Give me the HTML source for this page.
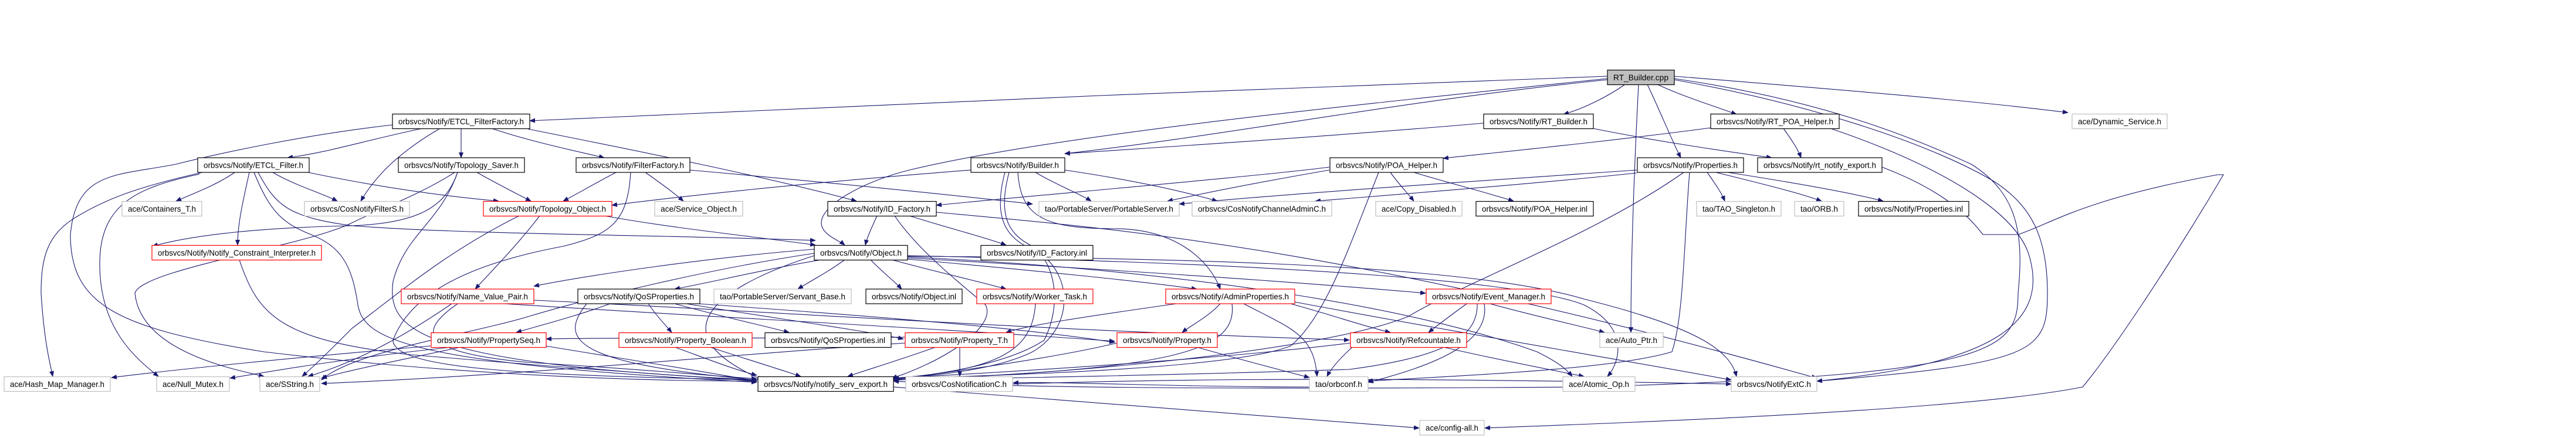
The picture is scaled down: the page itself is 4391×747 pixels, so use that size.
<!DOCTYPE html>
<html><head><meta charset="utf-8"><style>
html,body{margin:0;padding:0;background:#fff;}
svg{display:block;}
text{font-family:"Liberation Sans",sans-serif;font-size:14px;fill:#000;}
.e{fill:none;stroke:#191970;stroke-width:1.1;marker-end:url(#a);}
.b{fill:#fff;stroke:#000;stroke-width:1.2;}
.g{fill:#fff;stroke:#bfbfbf;stroke-width:1.2;}
.r{fill:#fff;stroke:#ff0000;stroke-width:1.2;}
</style></head><body>
<svg width="4391" height="747" viewBox="0 0 4391 747" xmlns="http://www.w3.org/2000/svg">
<defs><marker id="a" markerWidth="10" markerHeight="8" refX="9" refY="4" orient="auto" markerUnits="userSpaceOnUse"><polygon points="0,0 10,4 0,8" fill="#191970"/></marker></defs>
<g>
<path class="e" d="M2740,130 C2200,150 1400,180 903,206"/>
<path class="e" d="M2740,134 C2300,180 1800,230 1550,290 C1470,310 1400,350 1400,380 C1400,400 1430,410 1440,418"/>
<path class="e" d="M2740,136 C2400,170 2100,230 1815,262"/>
<path class="e" d="M2770,144 C2740,165 2700,185 2665,195"/>
<path class="e" d="M2825,144 C2870,165 2920,180 2960,195"/>
<path class="e" d="M2808,144 C2830,190 2850,240 2865,269"/>
<path class="e" d="M2793,144 C2785,300 2780,450 2780,567"/>
<path class="e" d="M2854,130 C3100,150 3350,170 3525,192"/>
<path class="e" d="M2854,136 C3100,180 3300,250 3400,310 C3460,350 3490,400 3490,500 C3490,600 3470,620 3097,650"/>
<path class="e" d="M2854,134 C3100,170 3250,230 3360,280 C3440,330 3450,400 3440,500 C3440,600 3400,640 2700,660 C2000,665 1700,660 1523,650"/>
<path class="e" d="M720,219 C620,240 560,260 490,269"/>
<path class="e" d="M786,219 L786,269"/>
<path class="e" d="M838,219 C900,240 970,255 1030,269"/>
<path class="e" d="M750,219 C680,260 640,300 615,343"/>
<path class="e" d="M900,220 C1100,260 1300,300 1460,343"/>
<path class="e" d="M669,213 C520,230 380,260 300,280 C200,300 130,290 120,400 C120,520 200,560 450,600 C700,630 1000,650 1290,650"/>
<path class="e" d="M400,294 C370,315 330,330 300,343"/>
<path class="e" d="M465,294 C500,315 550,330 575,343"/>
<path class="e" d="M525,294 C650,320 760,335 850,343"/>
<path class="e" d="M425,294 C415,340 405,380 405,418"/>
<path class="e" d="M345,294 C230,320 180,340 130,370 C80,400 70,440 70,500 C75,580 85,620 90,642"/>
<path class="e" d="M340,297 C230,320 170,350 170,450 C170,560 230,610 270,642"/>
<path class="e" d="M433,294 C460,360 480,380 530,400 C580,420 600,450 610,520 C620,580 700,620 1290,652"/>
<path class="e" d="M440,294 C470,350 490,370 600,385 C800,400 1100,400 1390,410"/>
<path class="e" d="M813,294 C850,315 880,330 905,343"/>
<path class="e" d="M780,294 C760,350 720,380 600,385 C450,388 330,400 260,420"/>
<path class="e" d="M780,294 C750,380 690,400 670,480 C660,560 700,620 1290,648"/>
<path class="e" d="M775,294 C720,330 640,360 600,380 C520,420 240,460 230,500 C240,600 400,630 450,642"/>
<path class="e" d="M1050,294 C1010,315 985,330 960,343"/>
<path class="e" d="M1100,294 C1130,315 1150,330 1165,343"/>
<path class="e" d="M1176,290 C1400,310 1600,330 1760,348"/>
<path class="e" d="M1075,294 C1070,380 1040,400 960,420 C800,450 700,500 670,580 C670,630 900,640 1290,648"/>
<path class="e" d="M920,368 C880,420 840,460 810,493"/>
<path class="e" d="M885,368 C760,430 680,500 600,560 C560,600 540,620 515,642"/>
<path class="e" d="M1030,368 C1150,390 1300,405 1390,418"/>
<path class="e" d="M408,443 C440,540 480,580 700,605 C1000,630 1150,640 1290,650"/>
<path class="e" d="M770,518 C680,580 600,620 525,642"/>
<path class="e" d="M860,518 C1200,540 1600,560 1900,582"/>
<path class="e" d="M780,518 C720,560 700,600 900,618 C1100,630 1200,640 1290,646"/>
<path class="e" d="M910,512 C1300,530 1700,560 2300,580"/>
<path class="e" d="M1040,518 C980,540 920,555 880,567"/>
<path class="e" d="M1105,518 C1120,540 1135,555 1145,567"/>
<path class="e" d="M1150,518 C1230,540 1300,555 1345,567"/>
<path class="e" d="M1170,518 C1300,540 1450,560 1540,578"/>
<path class="e" d="M1190,518 C1500,540 1750,560 1900,584"/>
<path class="e" d="M1000,518 C950,580 980,620 1290,648"/>
<path class="e" d="M734,590 C500,610 300,630 190,644"/>
<path class="e" d="M770,592 C600,610 480,630 392,645"/>
<path class="e" d="M785,592 C680,615 600,630 548,645"/>
<path class="e" d="M930,590 C1050,610 1180,630 1290,650"/>
<path class="e" d="M1542,575 C1300,578 1100,575 931,578"/>
<path class="e" d="M1210,592 C1280,615 1330,630 1365,642"/>
<path class="e" d="M1150,592 C1200,610 1250,630 1290,640"/>
<path class="e" d="M1636,592 L1636,642"/>
<path class="e" d="M1595,592 C1530,615 1480,630 1445,642"/>
<path class="e" d="M1543,585 C1300,600 900,640 548,654"/>
<path class="e" d="M1440,443 C1410,465 1380,480 1360,493"/>
<path class="e" d="M1484,443 C1505,465 1525,480 1537,493"/>
<path class="e" d="M1520,443 C1600,465 1670,480 1715,493"/>
<path class="e" d="M1547,442 C1750,460 1950,480 2040,493"/>
<path class="e" d="M1400,443 C1300,460 1220,480 1150,493"/>
<path class="e" d="M1388,425 C1200,440 1000,470 910,488"/>
<path class="e" d="M1547,440 C1900,460 2200,480 2430,500"/>
<path class="e" d="M1547,437 C2000,440 2500,450 2700,510 C2900,560 2950,600 2960,642"/>
<path class="e" d="M1547,436 C2200,450 2600,480 2700,520 C2780,560 2760,620 2740,642"/>
<path class="e" d="M1547,438 C2000,460 2400,520 2620,600 C2660,620 2670,630 2680,642"/>
<path class="e" d="M1388,432 C1200,460 1000,510 900,540 C800,570 600,600 548,648"/>
<path class="e" d="M1388,436 C1250,480 1100,560 1300,648"/>
<path class="e" d="M1495,368 C1485,390 1478,405 1475,418"/>
<path class="e" d="M1550,368 C1620,390 1680,405 1715,418"/>
<path class="e" d="M1525,368 C1560,420 1620,470 1680,520 C1700,560 1600,620 1520,645"/>
<path class="e" d="M1596,362 C1900,390 2300,420 3097,645"/>
<path class="e" d="M1655,290 C1400,310 1200,330 1043,350"/>
<path class="e" d="M1765,294 C1800,315 1840,330 1860,343"/>
<path class="e" d="M1815,290 C1950,310 2030,330 2075,343"/>
<path class="e" d="M1735,294 C1740,370 1780,390 1900,390 C2000,390 2060,440 2080,493"/>
<path class="e" d="M1720,294 C1700,370 1720,400 1760,420 C1800,450 1810,520 1780,580 C1720,620 1600,640 1523,645"/>
<path class="e" d="M1713,294 C1690,380 1720,410 1770,430 C1830,470 1830,560 1760,600 C1700,630 1600,640 1523,646"/>
<path class="e" d="M2529,210 C2300,230 2000,250 1815,262"/>
<path class="e" d="M2715,219 C2820,240 2920,255 3020,269"/>
<path class="e" d="M2916,218 C2750,240 2600,255 2460,270"/>
<path class="e" d="M3040,219 C3055,240 3065,255 3070,269"/>
<path class="e" d="M3120,219 C3300,280 3440,360 3460,440 C3490,550 3400,620 3097,650"/>
<path class="e" d="M2266,290 C2150,310 2050,330 1990,343"/>
<path class="e" d="M2266,285 C2150,300 1800,330 1596,350"/>
<path class="e" d="M2370,294 C2385,315 2400,330 2410,343"/>
<path class="e" d="M2410,294 C2480,315 2540,330 2580,343"/>
<path class="e" d="M2350,294 C2300,420 2260,540 2200,590 C2100,630 1700,640 1523,646"/>
<path class="e" d="M2910,294 C2925,315 2935,330 2940,343"/>
<path class="e" d="M2925,294 C3010,315 3070,330 3105,343"/>
<path class="e" d="M2945,294 C3080,315 3160,330 3210,343"/>
<path class="e" d="M2790,290 C2500,310 2200,330 2010,348"/>
<path class="e" d="M2790,295 C2600,315 2400,330 2242,343"/>
<path class="e" d="M2870,294 C2720,400 2500,480 2400,540 C2250,600 1800,640 1523,648"/>
<path class="e" d="M2880,294 C2870,420 2870,540 2850,600 C2750,630 2500,640 2330,650"/>
<path class="e" d="M2500,518 C2470,540 2450,555 2435,567"/>
<path class="e" d="M2540,518 C2620,540 2690,555 2735,567"/>
<path class="e" d="M2530,518 C2540,580 2460,620 2332,652"/>
<path class="e" d="M2518,518 C2520,580 2450,610 2300,630 C2000,640 1700,645 1523,648"/>
<path class="e" d="M2305,592 C2280,615 2268,630 2262,642"/>
<path class="e" d="M2460,592 C2560,615 2640,630 2700,642"/>
<path class="e" d="M2302,585 C2100,610 1800,630 1523,645"/>
<path class="e" d="M2080,518 C2060,540 2030,555 2015,567"/>
<path class="e" d="M2005,518 C1850,540 1750,555 1715,567"/>
<path class="e" d="M2120,518 C2200,560 2240,570 2245,642"/>
<path class="e" d="M2200,518 C2280,540 2320,555 2370,567"/>
<path class="e" d="M2100,518 C2110,600 2000,630 1523,648"/>
<path class="e" d="M2207,515 C2500,570 2800,620 2951,648"/>
<path class="e" d="M2040,592 C2120,615 2180,630 2232,644"/>
<path class="e" d="M1904,585 C1800,610 1650,630 1523,648"/>
<path class="e" d="M1765,518 C1760,600 1700,630 1523,646"/>
<path class="e" d="M1726,655 C1900,650 2200,640 2951,655"/>
<path class="e" d="M2232,660 C2000,660 1800,650 1727,653"/>
<path class="e" d="M1523,660 C1900,690 2200,715 2419,730"/>
<path class="e" d="M3208,285 C3300,320 3350,360 3380,400 L3440,400 C3500,380 3550,340 3780,298 L3790,298 C3700,450 3600,600 3550,660 C3350,700 2800,720 2531,730"/>
</g>
<g>
<rect class="b" x="2740" y="119.5" width="114" height="25" style="fill:#bfbfbf"/><text x="2797" y="137" text-anchor="middle" textLength="94" lengthAdjust="spacingAndGlyphs">RT_Builder.cpp</text>
<rect class="b" x="669" y="194.5" width="234" height="25"/><text x="786" y="212" text-anchor="middle" textLength="214" lengthAdjust="spacingAndGlyphs">orbsvcs/Notify/ETCL_FilterFactory.h</text>
<rect class="b" x="2529" y="194.5" width="187" height="25"/><text x="2622.5" y="212" text-anchor="middle" textLength="167" lengthAdjust="spacingAndGlyphs">orbsvcs/Notify/RT_Builder.h</text>
<rect class="b" x="2916" y="194.5" width="219" height="25"/><text x="3025.5" y="212" text-anchor="middle" textLength="199" lengthAdjust="spacingAndGlyphs">orbsvcs/Notify/RT_POA_Helper.h</text>
<rect class="g" x="3532" y="194.5" width="162" height="25"/><text x="3613" y="212" text-anchor="middle" textLength="142" lengthAdjust="spacingAndGlyphs">ace/Dynamic_Service.h</text>
<rect class="b" x="337" y="269" width="190" height="25"/><text x="432" y="286.5" text-anchor="middle" textLength="170" lengthAdjust="spacingAndGlyphs">orbsvcs/Notify/ETCL_Filter.h</text>
<rect class="b" x="679" y="269" width="215" height="25"/><text x="786.5" y="286.5" text-anchor="middle" textLength="195" lengthAdjust="spacingAndGlyphs">orbsvcs/Notify/Topology_Saver.h</text>
<rect class="b" x="982" y="269" width="194" height="25"/><text x="1079" y="286.5" text-anchor="middle" textLength="174" lengthAdjust="spacingAndGlyphs">orbsvcs/Notify/FilterFactory.h</text>
<rect class="b" x="1655" y="269" width="160" height="25"/><text x="1735" y="286.5" text-anchor="middle" textLength="140" lengthAdjust="spacingAndGlyphs">orbsvcs/Notify/Builder.h</text>
<rect class="b" x="2267" y="269" width="193" height="25"/><text x="2363.5" y="286.5" text-anchor="middle" textLength="173" lengthAdjust="spacingAndGlyphs">orbsvcs/Notify/POA_Helper.h</text>
<rect class="b" x="2791" y="269" width="181" height="25"/><text x="2881.5" y="286.5" text-anchor="middle" textLength="161" lengthAdjust="spacingAndGlyphs">orbsvcs/Notify/Properties.h</text>
<rect class="b" x="2996" y="269" width="212" height="25"/><text x="3102" y="286.5" text-anchor="middle" textLength="192" lengthAdjust="spacingAndGlyphs">orbsvcs/Notify/rt_notify_export.h</text>
<rect class="g" x="208" y="343.5" width="136" height="25"/><text x="276" y="361" text-anchor="middle" textLength="116" lengthAdjust="spacingAndGlyphs">ace/Containers_T.h</text>
<rect class="g" x="519" y="343.5" width="179" height="25"/><text x="608.5" y="361" text-anchor="middle" textLength="159" lengthAdjust="spacingAndGlyphs">orbsvcs/CosNotifyFilterS.h</text>
<rect class="r" x="824" y="343.5" width="219" height="25"/><text x="933.5" y="361" text-anchor="middle" textLength="199" lengthAdjust="spacingAndGlyphs">orbsvcs/Notify/Topology_Object.h</text>
<rect class="g" x="1116" y="343.5" width="150" height="25"/><text x="1191" y="361" text-anchor="middle" textLength="130" lengthAdjust="spacingAndGlyphs">ace/Service_Object.h</text>
<rect class="b" x="1411" y="343.5" width="185" height="25"/><text x="1503.5" y="361" text-anchor="middle" textLength="165" lengthAdjust="spacingAndGlyphs">orbsvcs/Notify/ID_Factory.h</text>
<rect class="g" x="1771" y="343.5" width="239" height="25"/><text x="1890.5" y="361" text-anchor="middle" textLength="219" lengthAdjust="spacingAndGlyphs">tao/PortableServer/PortableServer.h</text>
<rect class="g" x="2032" y="343.5" width="238" height="25"/><text x="2151" y="361" text-anchor="middle" textLength="218" lengthAdjust="spacingAndGlyphs">orbsvcs/CosNotifyChannelAdminC.h</text>
<rect class="g" x="2345" y="343.5" width="147" height="25"/><text x="2418.5" y="361" text-anchor="middle" textLength="127" lengthAdjust="spacingAndGlyphs">ace/Copy_Disabled.h</text>
<rect class="b" x="2516" y="343.5" width="200" height="25"/><text x="2616" y="361" text-anchor="middle" textLength="180" lengthAdjust="spacingAndGlyphs">orbsvcs/Notify/POA_Helper.inl</text>
<rect class="g" x="2892" y="343.5" width="144" height="25"/><text x="2964" y="361" text-anchor="middle" textLength="124" lengthAdjust="spacingAndGlyphs">tao/TAO_Singleton.h</text>
<rect class="g" x="3059" y="343.5" width="84" height="25"/><text x="3101" y="361" text-anchor="middle" textLength="64" lengthAdjust="spacingAndGlyphs">tao/ORB.h</text>
<rect class="b" x="3168" y="343.5" width="188" height="25"/><text x="3262" y="361" text-anchor="middle" textLength="168" lengthAdjust="spacingAndGlyphs">orbsvcs/Notify/Properties.inl</text>
<rect class="r" x="259" y="418.5" width="289" height="25"/><text x="403.5" y="436" text-anchor="middle" textLength="269" lengthAdjust="spacingAndGlyphs">orbsvcs/Notify/Notify_Constraint_Interpreter.h</text>
<rect class="b" x="1388" y="418.5" width="159" height="25"/><text x="1467.5" y="436" text-anchor="middle" textLength="139" lengthAdjust="spacingAndGlyphs">orbsvcs/Notify/Object.h</text>
<rect class="b" x="1672" y="418.5" width="191" height="25"/><text x="1767.5" y="436" text-anchor="middle" textLength="171" lengthAdjust="spacingAndGlyphs">orbsvcs/Notify/ID_Factory.inl</text>
<rect class="r" x="684" y="493" width="226" height="25"/><text x="797" y="510.5" text-anchor="middle" textLength="206" lengthAdjust="spacingAndGlyphs">orbsvcs/Notify/Name_Value_Pair.h</text>
<rect class="b" x="985" y="493" width="208" height="25"/><text x="1089" y="510.5" text-anchor="middle" textLength="188" lengthAdjust="spacingAndGlyphs">orbsvcs/Notify/QoSProperties.h</text>
<rect class="g" x="1217" y="493" width="234" height="25"/><text x="1334" y="510.5" text-anchor="middle" textLength="214" lengthAdjust="spacingAndGlyphs">tao/PortableServer/Servant_Base.h</text>
<rect class="b" x="1476" y="493" width="164" height="25"/><text x="1558" y="510.5" text-anchor="middle" textLength="144" lengthAdjust="spacingAndGlyphs">orbsvcs/Notify/Object.inl</text>
<rect class="r" x="1665" y="493" width="198" height="25"/><text x="1764" y="510.5" text-anchor="middle" textLength="178" lengthAdjust="spacingAndGlyphs">orbsvcs/Notify/Worker_Task.h</text>
<rect class="r" x="1987" y="493" width="220" height="25"/><text x="2097" y="510.5" text-anchor="middle" textLength="200" lengthAdjust="spacingAndGlyphs">orbsvcs/Notify/AdminProperties.h</text>
<rect class="r" x="2431" y="493" width="213" height="25"/><text x="2537.5" y="510.5" text-anchor="middle" textLength="193" lengthAdjust="spacingAndGlyphs">orbsvcs/Notify/Event_Manager.h</text>
<rect class="r" x="735" y="567.5" width="196" height="25"/><text x="833" y="585" text-anchor="middle" textLength="176" lengthAdjust="spacingAndGlyphs">orbsvcs/Notify/PropertySeq.h</text>
<rect class="r" x="1055" y="567.5" width="227" height="25"/><text x="1168.5" y="585" text-anchor="middle" textLength="207" lengthAdjust="spacingAndGlyphs">orbsvcs/Notify/Property_Boolean.h</text>
<rect class="b" x="1304" y="567.5" width="215" height="25"/><text x="1411.5" y="585" text-anchor="middle" textLength="195" lengthAdjust="spacingAndGlyphs">orbsvcs/Notify/QoSProperties.inl</text>
<rect class="r" x="1543" y="567.5" width="185" height="25"/><text x="1635.5" y="585" text-anchor="middle" textLength="165" lengthAdjust="spacingAndGlyphs">orbsvcs/Notify/Property_T.h</text>
<rect class="r" x="1904" y="567.5" width="171" height="25"/><text x="1989.5" y="585" text-anchor="middle" textLength="151" lengthAdjust="spacingAndGlyphs">orbsvcs/Notify/Property.h</text>
<rect class="r" x="2302" y="567.5" width="198" height="25"/><text x="2401" y="585" text-anchor="middle" textLength="178" lengthAdjust="spacingAndGlyphs">orbsvcs/Notify/Refcountable.h</text>
<rect class="g" x="2727" y="567.5" width="108" height="25"/><text x="2781" y="585" text-anchor="middle" textLength="88" lengthAdjust="spacingAndGlyphs">ace/Auto_Ptr.h</text>
<rect class="g" x="7" y="642.5" width="181" height="25"/><text x="97.5" y="660" text-anchor="middle" textLength="161" lengthAdjust="spacingAndGlyphs">ace/Hash_Map_Manager.h</text>
<rect class="g" x="267" y="642.5" width="124" height="25"/><text x="329" y="660" text-anchor="middle" textLength="104" lengthAdjust="spacingAndGlyphs">ace/Null_Mutex.h</text>
<rect class="g" x="443" y="642.5" width="102" height="25"/><text x="494" y="660" text-anchor="middle" textLength="82" lengthAdjust="spacingAndGlyphs">ace/SString.h</text>
<rect class="b" x="1292" y="642.5" width="231" height="25"/><text x="1407.5" y="660" text-anchor="middle" textLength="211" lengthAdjust="spacingAndGlyphs">orbsvcs/Notify/notify_serv_export.h</text>
<rect class="g" x="1544" y="642.5" width="182" height="25"/><text x="1635" y="660" text-anchor="middle" textLength="162" lengthAdjust="spacingAndGlyphs">orbsvcs/CosNotificationC.h</text>
<rect class="g" x="2232" y="642.5" width="100" height="25"/><text x="2282" y="660" text-anchor="middle" textLength="80" lengthAdjust="spacingAndGlyphs">tao/orbconf.h</text>
<rect class="g" x="2664" y="642.5" width="123" height="25"/><text x="2725.5" y="660" text-anchor="middle" textLength="103" lengthAdjust="spacingAndGlyphs">ace/Atomic_Op.h</text>
<rect class="g" x="2951" y="642.5" width="146" height="25"/><text x="3024" y="660" text-anchor="middle" textLength="126" lengthAdjust="spacingAndGlyphs">orbsvcs/NotifyExtC.h</text>
<rect class="g" x="2420" y="717" width="110" height="25"/><text x="2475" y="734.5" text-anchor="middle" textLength="90" lengthAdjust="spacingAndGlyphs">ace/config-all.h</text>
</g>
</svg>
</body></html>
